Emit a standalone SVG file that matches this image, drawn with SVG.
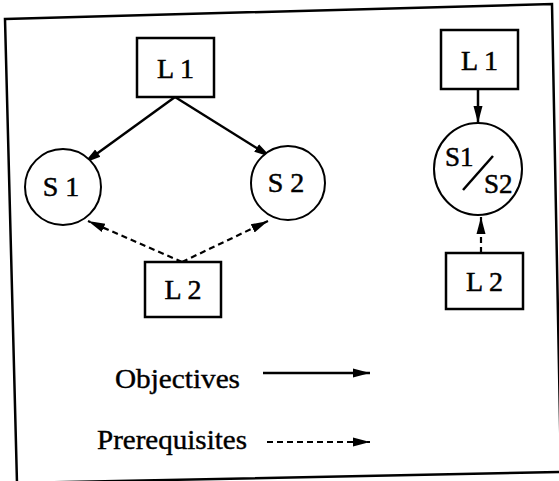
<svg xmlns="http://www.w3.org/2000/svg" width="559" height="481" viewBox="0 0 559 481">
<style>
.box{fill:#fff;stroke:#000;stroke-width:2.5}
.node{fill:#fff;stroke:#000;stroke-width:2}
.lbl{font-family:"Liberation Serif","Times New Roman",serif;font-size:28px;fill:#000;stroke:#000;stroke-width:0.5;text-anchor:middle}
.sl{font-family:"Liberation Serif","Times New Roman",serif;font-size:27px;fill:#000;stroke:#000;stroke-width:0.5}
.leg{font-family:"Liberation Serif","Times New Roman",serif;font-size:27px;fill:#000;stroke:#000;stroke-width:0.4}
.solid{fill:none;stroke:#000;stroke-width:2.5;marker-end:url(#ah)}
.dash{fill:none;stroke:#000;stroke-width:2.2;stroke-dasharray:6 4;marker-end:url(#ah)}
</style>
<defs>
<marker id="ah" markerUnits="userSpaceOnUse" markerWidth="18" markerHeight="12" refX="17" refY="6" orient="auto">
<path d="M0,1.5 L17,6 L0,10.5 Z" fill="#000"/>
</marker>
</defs>
<rect width="559" height="481" fill="#fff"/>
<polygon id="frame" points="5,19 552,4 561,472 17,483" fill="none" stroke="#000" stroke-width="2.5"/>
<g id="connectors">
<path class="solid" d="M175,97 L84,163"/>
<path class="solid" d="M175,97 L271,157"/>
<path class="dash" d="M182,262 L88,221"/>
<path class="dash" d="M182,262 L268,221"/>
<path class="solid" d="M478,89 L478,123"/>
<path class="dash" d="M481,253 L481,217"/>
</g>
<g id="L1a"><rect class="box" x="137" y="38" width="77" height="59"/><text class="lbl" x="175.5" y="78">L 1</text></g>
<g id="S1"><circle class="node" cx="63" cy="187" r="38"/><text class="lbl" x="61" y="196" font-size="27">S 1</text></g>
<g id="S2"><circle class="node" cx="288" cy="183" r="37"/><text class="lbl" x="286" y="192" font-size="27">S 2</text></g>
<g id="L2a"><rect class="box" x="145" y="262" width="76" height="55"/><text class="lbl" x="183" y="299">L 2</text></g>
<g id="L1b"><rect class="box" x="441" y="30" width="77" height="59"/><text class="lbl" x="479.5" y="70">L 1</text></g>
<g id="S12"><ellipse class="node" cx="478" cy="169" rx="44" ry="46"/>
<text class="sl" x="445" y="166">S1</text>
<line x1="463" y1="190" x2="493" y2="156" stroke="#000" stroke-width="2.5"/>
<text class="sl" x="484" y="193">S2</text></g>
<g id="L2b"><rect class="box" x="446" y="253" width="77" height="56"/><text class="lbl" x="484.5" y="291">L 2</text></g>
<g id="legend">
<text class="leg" x="115" y="388" textLength="125" lengthAdjust="spacingAndGlyphs">Objectives</text>
<path class="solid" d="M263,373 L370,373"/>
<text class="leg" x="97" y="449" textLength="150" lengthAdjust="spacingAndGlyphs">Prerequisites</text>
<path class="dash" d="M267,442 L370,442"/>
</g>
</svg>
